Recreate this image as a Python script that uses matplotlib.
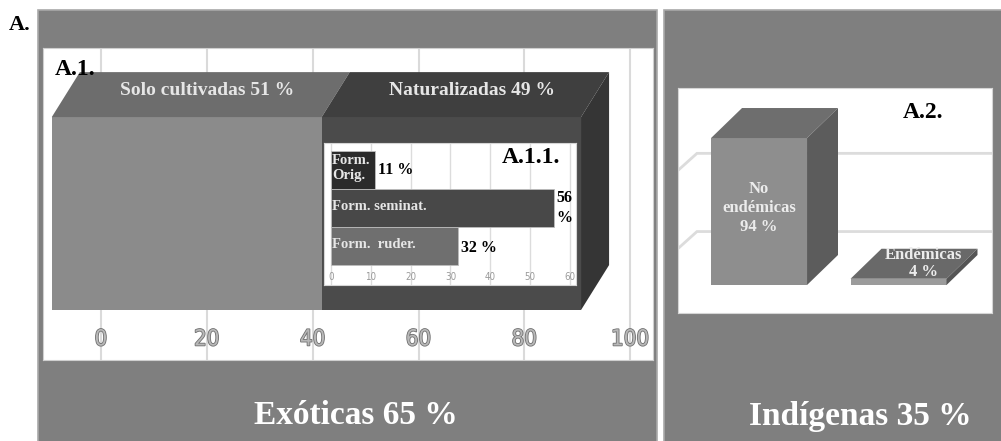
import matplotlib.pyplot as plt
import matplotlib.patheffects as pe
from matplotlib.patches import Polygon, Rectangle

# origin of the flora (panel widths follow these shares)
ORIGIN_GROUPS = ['Exóticas', 'Indígenas']
ORIGIN_SHARE = [65, 35]

# A.1 exotic species
EXOTIC_GROUPS = ['Solo cultivadas', 'Naturalizadas']
EXOTIC_SHARE = [51, 49]
A1_TICKS = [0, 20, 40, 60, 80, 100]

# A.1.1 naturalized species by formation
NAT_GROUPS = ['Form. ruder.', 'Form. seminat.', 'Form. Orig.']
NAT_LABELS = ['Form.  ruder.', 'Form. seminat.', 'Form.\nOrig.']
NAT_SHARE = [32, 56, 11]
A11_TICKS = [0, 10, 20, 30, 40, 50, 60]

# A.2 native species
NATIVE_GROUPS = ['No\nendémicas', 'Endémicas']
NATIVE_SHARE = [94, 4]
A2_GRID = [50, 100]

SERIF = ['Liberation Serif', 'DejaVu Serif']
NARROW = ['Liberation Sans Narrow', 'DejaVu Sans']
W, H = 1001, 441

fig = plt.figure(figsize=(W / 100, H / 100), dpi=100)
fig.patch.set_facecolor('white')


def px_axes(x0, y0, x1, y1):
    return fig.add_axes([x0 / W, 1 - y1 / H, (x1 - x0) / W, (y1 - y0) / H])


# background with the two grey panels, pixel coordinates
bg = fig.add_axes([0, 0, 1, 1])
bg.set_xlim(0, W)
bg.set_ylim(H, 0)
bg.axis('off')

usable, gap, x = 952, 7, 38
for i, share in enumerate(ORIGIN_SHARE):
    w = share / 100 * usable
    if i == len(ORIGIN_SHARE) - 1:
        w = W - x + 5
    bg.add_patch(Rectangle((x, 10), w, H, facecolor='#7f7f7f',
                           edgecolor='#a9a9a9', lw=1.2))
    x += w + gap

bg.text(356, 415, f'{ORIGIN_GROUPS[0]} {ORIGIN_SHARE[0]} %', ha='center', va='center',
        color='white', fontsize=24, fontweight='bold', family=SERIF)
bg.text(860, 417, f'{ORIGIN_GROUPS[1]} {ORIGIN_SHARE[1]} %', ha='center', va='center',
        color='white', fontsize=24, fontweight='bold', family=SERIF)
bg.text(20, 25, 'A.', ha='center', va='center', fontsize=16,
        fontweight='bold', family=SERIF)
bg.text(64, 337, '%', ha='center', va='center', fontsize=17,
        fontweight='bold', family=SERIF)

# ---- A.1: stacked 3D bar of exotic species ----
ax1 = px_axes(43, 48, 653, 360)
ax1.set_facecolor('white')
ax1.set_xlim(-10.96, 104.3)
ax1.set_ylim(-0.759, 0.858)
ax1.set_xticks(A1_TICKS)
ax1.set_yticks([])
ax1.grid(axis='x', color='#dadada', lw=1.5)
ax1.set_axisbelow(True)
for s in ax1.spines.values():
    s.set_color('#cfcfcf')
ax1.tick_params(axis='x', length=0, pad=-22, labelsize=16, labelcolor='#b8b8b8')
for lab in ax1.get_xticklabels():
    lab.set_family(NARROW)
    lab.set_stretch('condensed')
    lab.set_path_effects([pe.withStroke(linewidth=1.2, foreground='#707070')])

front_shift, dx, dy = -9.3, 5.3, 0.233
front_cols = ['#8b8b8b', '#4b4b4b']
top_cols = ['#6d6d6d', '#3f3f3f']
left = front_shift
for name, share, fc, tc in zip(EXOTIC_GROUPS, EXOTIC_SHARE, front_cols, top_cols):
    ax1.barh(0, share, left=left, height=1, color=fc, zorder=2)
    ax1.add_patch(Polygon([(left, 0.5), (left + share, 0.5),
                           (left + share + dx, 0.5 + dy), (left + dx, 0.5 + dy)],
                          closed=True, facecolor=tc, edgecolor='none', zorder=2))
    ax1.text(left + share / 2 + dx / 2 + 1.2, 0.5 + dy / 2 + 0.02, f'{name} {share} %',
             ha='center', va='center', color='#e6e6e6', fontsize=14,
             fontweight='bold', family=SERIF, zorder=4)
    left += share
ax1.add_patch(Polygon([(left, 0.5), (left + dx, 0.5 + dy),
                       (left + dx, -0.5 + dy), (left, -0.5)],
                      closed=True, facecolor='#353535', edgecolor='none', zorder=2))
ax1.text(0.02, 0.93, 'A.1.', transform=ax1.transAxes, ha='left', va='center',
         fontsize=17, fontweight='bold', family=SERIF)

# ---- A.1.1: naturalized species by formation ----
ax11 = px_axes(324, 143, 576, 285)
ax11.set_facecolor('white')
ax11.set_xlim(-1.76, 61.51)
ax11.set_ylim(-1.026, 2.71)
ax11.set_xticks(A11_TICKS)
ax11.set_yticks([])
ax11.grid(axis='x', color='#dcdcdc', lw=1)
ax11.set_axisbelow(True)
for s in ax11.spines.values():
    s.set_color('#d5d5d5')
ax11.tick_params(axis='x', length=0, pad=-9, labelsize=7, labelcolor='#9a9a9a')
for lab in ax11.get_xticklabels():
    lab.set_family(NARROW)
    lab.set_stretch('condensed')

nat_cols = ['#6f6f6f', '#484848', '#2b2b2b']
ypos = list(range(len(NAT_SHARE)))
ax11.barh(ypos, NAT_SHARE, height=1.0, color=nat_cols, edgecolor='#bdbdbd', lw=0.6)
xmax = ax11.get_xlim()[1]
for y, lab, v in zip(ypos, NAT_LABELS, NAT_SHARE):
    ax11.text(0.25, y + 0.05, lab, ha='left', va='center', color='#e6e6e6',
              fontsize=10.5, fontweight='bold', family=SERIF, linespacing=1.2)
    txt = f'{v}\n%' if v + 8 > xmax else f'{v} %'
    ax11.text(v + 0.7, y - 0.05 if y == 0 else y, txt, ha='left', va='center',
              fontsize=11.5, fontweight='bold', family=SERIF, linespacing=1.3)
ax11.text(0.82, 0.9, 'A.1.1.', transform=ax11.transAxes, ha='center', va='center',
          fontsize=17, fontweight='bold', family=SERIF)

# ---- A.2: 3D columns of native species ----
ax2 = px_axes(678, 88, 992, 313)
ax2.set_facecolor('white')
ax2.set_xlim(-0.581, 1.670)
ax2.set_ylim(-17.9, 126.0)
ax2.set_xticks([])
ax2.set_yticks([])
for s in ax2.spines.values():
    s.set_color('#d5d5d5')

wall_shift, wall_dx, wall_dy = -15.8, 0.136, 10.9
x_lo, x_hi = ax2.get_xlim()
for g in A2_GRID:
    gy = g + wall_shift
    ax2.plot([x_lo, x_lo + wall_dx, x_hi], [gy - wall_dy, gy, gy],
             color='#dcdcdc', lw=2, zorder=1, solid_joinstyle='miter')

bw, ddx, ddy = 0.688, 0.222, 19.2
front2 = ['#8e8e8e', '#9b9b9b']
top2 = ['#6e6e6e', '#696969']
side2 = ['#5c5c5c', '#555555']
xpos = list(range(len(NATIVE_SHARE)))
ax2.bar(xpos, NATIVE_SHARE, width=bw, color=front2, zorder=3)
for xi, v, tc, sc in zip(xpos, NATIVE_SHARE, top2, side2):
    l, r = xi - bw / 2, xi + bw / 2
    ax2.add_patch(Polygon([(l, v), (r, v), (r + ddx, v + ddy), (l + ddx, v + ddy)],
                          closed=True, facecolor=tc, edgecolor='none', zorder=3))
    ax2.add_patch(Polygon([(r, 0), (r, v), (r + ddx, v + ddy), (r + ddx, ddy)],
                          closed=True, facecolor=sc, edgecolor='none', zorder=3))

ax2.text(xpos[0], NATIVE_SHARE[0] / 2 + 2, f'{NATIVE_GROUPS[0]}\n{NATIVE_SHARE[0]} %',
         ha='center', va='center', color='#ececec', fontsize=12, fontweight='bold',
         family=SERIF, linespacing=1.25, zorder=4)
ax2.text(xpos[1] + 0.176, NATIVE_SHARE[1] + ddy / 2, f'{NATIVE_GROUPS[1]}\n{NATIVE_SHARE[1]} %',
         ha='center', va='center', color='#ececec', fontsize=12, fontweight='bold',
         family=SERIF, linespacing=1.05, zorder=4)
ax2.text(0.78, 0.89, 'A.2.', transform=ax2.transAxes, ha='center', va='center',
         fontsize=17, fontweight='bold', family=SERIF)

fig.savefig('out.png', dpi=100, facecolor='white')
